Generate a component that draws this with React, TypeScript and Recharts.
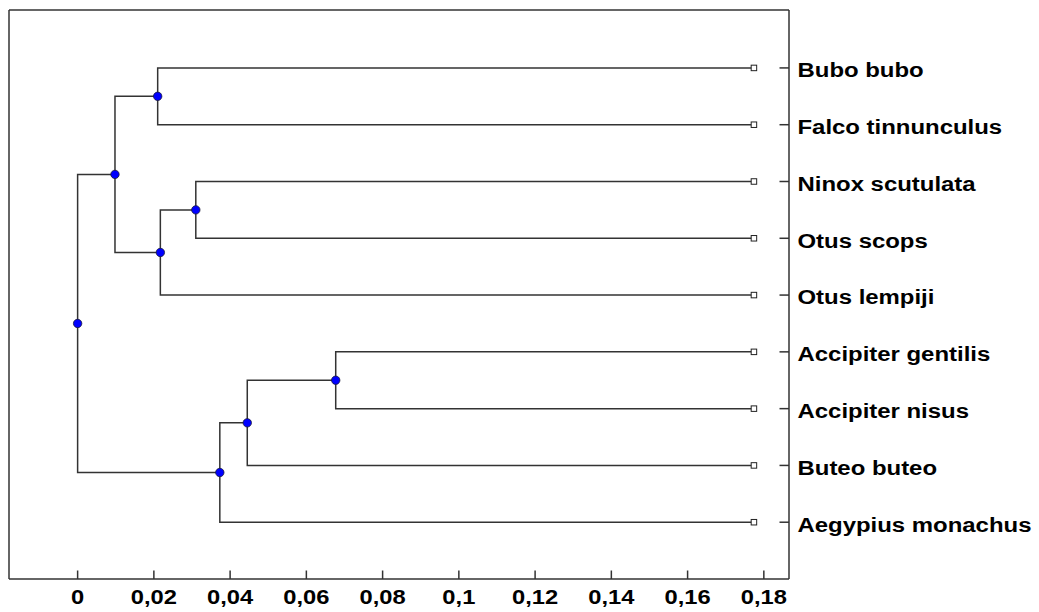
import { ScatterChart, Scatter, XAxis, YAxis, ReferenceLine } from 'recharts';

// leaves, top to bottom
const leafNames = [
  'Bubo bubo',
  'Falco tinnunculus',
  'Ninox scutulata',
  'Otus scops',
  'Otus lempiji',
  'Accipiter gentilis',
  'Accipiter nisus',
  'Buteo buteo',
  'Aegypius monachus',
];
const leafDistance = 0.1774;

// merges: node ids 0..8 are leaves, 9.. are the merges in this order
const mergeLeft = [0, 2, 10, 9, 5, 13, 14, 12];
const mergeRight = [1, 3, 4, 11, 6, 7, 8, 15];
const mergeDistance = [0.021, 0.031, 0.0217, 0.0098, 0.0677, 0.0445, 0.0373, 0];

const xTicks = [0, 0.02, 0.04, 0.06, 0.08, 0.1, 0.12, 0.14, 0.16, 0.18];
const xTickLabels = ['0', '0,02', '0,04', '0,06', '0,08', '0,1', '0,12', '0,14', '0,16', '0,18'];
const yTicks = [1, 2, 3, 4, 5, 6, 7, 8, 9];

const X_DOMAIN = [-0.018, 0.1866];
const Y_DOMAIN = [-0.02, 10];

const LINE = '#333';
const FONT = '"Liberation Sans", Arial, sans-serif';

// lay out the tree: leaves on rows 1..n, merges in the middle of their children
const nodes: { x: number; y: number }[] = leafNames.map((_, i) => ({ x: leafDistance, y: i + 1 }));
mergeLeft.forEach((a, i) => {
  const b = mergeRight[i];
  nodes.push({ x: mergeDistance[i], y: (nodes[a].y + nodes[b].y) / 2 });
});
const leafPoints = nodes.slice(0, leafNames.length);
const mergePoints = nodes.slice(leafNames.length);
const connectors = mergeLeft.map((a, i) => {
  const b = mergeRight[i];
  const h = mergeDistance[i];
  return [
    { x: nodes[a].x, y: nodes[a].y },
    { x: h, y: nodes[a].y },
    { x: h, y: nodes[b].y },
    { x: nodes[b].x, y: nodes[b].y },
  ];
});

const BottomTick = ({ x, y, payload }: any) => {
  const idx = xTicks.indexOf(payload.value);
  return (
    <g transform={`translate(${x},${y})`}>
      <line x1={0} y1={-8.5} x2={0} y2={0} stroke={LINE} strokeWidth={1.5} />
      <text
        x={0}
        y={25}
        textAnchor="middle"
        transform="scale(1.13,1)"
        fontFamily={FONT}
        fontWeight="bold"
        fontSize={21}
        fill="#000"
      >
        {xTickLabels[idx]}
      </text>
    </g>
  );
};

const RightTick = ({ x, y, payload }: any) => (
  <g transform={`translate(${x},${y})`}>
    <line x1={-9.5} y1={0} x2={0} y2={0} stroke={LINE} strokeWidth={1.5} />
    <g transform="translate(8.5,9.3)">
      <text
        x={0}
        y={0}
        transform="scale(1.14,1)"
        fontFamily={FONT}
        fontWeight="bold"
        fontSize={21}
        fill="#000"
      >
        {leafNames[payload.value - 1]}
      </text>
    </g>
  </g>
);

export default function App() {
  return (
    <div style={{ width: 1039, height: 612, background: '#fff' }}>
      <style>{'body{margin:0}'}</style>
      <ScatterChart width={1039} height={612} margin={{ top: 10, right: 0, bottom: 0, left: 9 }}>
        <XAxis
          type="number"
          dataKey="x"
          domain={X_DOMAIN}
          ticks={xTicks}
          orientation="bottom"
          height={33}
          tickSize={0}
          tickMargin={0}
          tickLine={false}
          axisLine={{ stroke: LINE, strokeWidth: 1.5 }}
          tick={<BottomTick />}
          interval={0}
          allowDataOverflow
        />
        <YAxis
          type="number"
          dataKey="y"
          domain={Y_DOMAIN}
          reversed
          ticks={yTicks}
          orientation="right"
          width={250}
          tickSize={0}
          tickMargin={0}
          tickLine={false}
          axisLine={{ stroke: LINE, strokeWidth: 1.5 }}
          tick={<RightTick />}
          interval={0}
          allowDataOverflow
        />
        {/* frame: top and left edges */}
        <ReferenceLine x={X_DOMAIN[0]} stroke={LINE} strokeWidth={1.5} ifOverflow="extendDomain" />
        <ReferenceLine y={Y_DOMAIN[0]} stroke={LINE} strokeWidth={1.5} ifOverflow="extendDomain" />
        {connectors.map((pts, i) => (
          <Scatter
            key={i}
            data={pts}
            line={{ stroke: LINE, strokeWidth: 1.5 }}
            lineType="joint"
            shape={() => <g />}
            isAnimationActive={false}
          />
        ))}
        <Scatter
          data={leafPoints}
          isAnimationActive={false}
          shape={(p: any) => (
            <rect x={p.cx - 2.75} y={p.cy - 2.75} width={5.5} height={5.5} fill="#fff" stroke="#222" strokeWidth={1} />
          )}
        />
        <Scatter
          data={mergePoints}
          isAnimationActive={false}
          shape={(p: any) => <circle cx={p.cx} cy={p.cy} r={4.2} fill="#0000ff" stroke="#1a1a3a" strokeWidth={0.8} />}
        />
      </ScatterChart>
    </div>
  );
}
